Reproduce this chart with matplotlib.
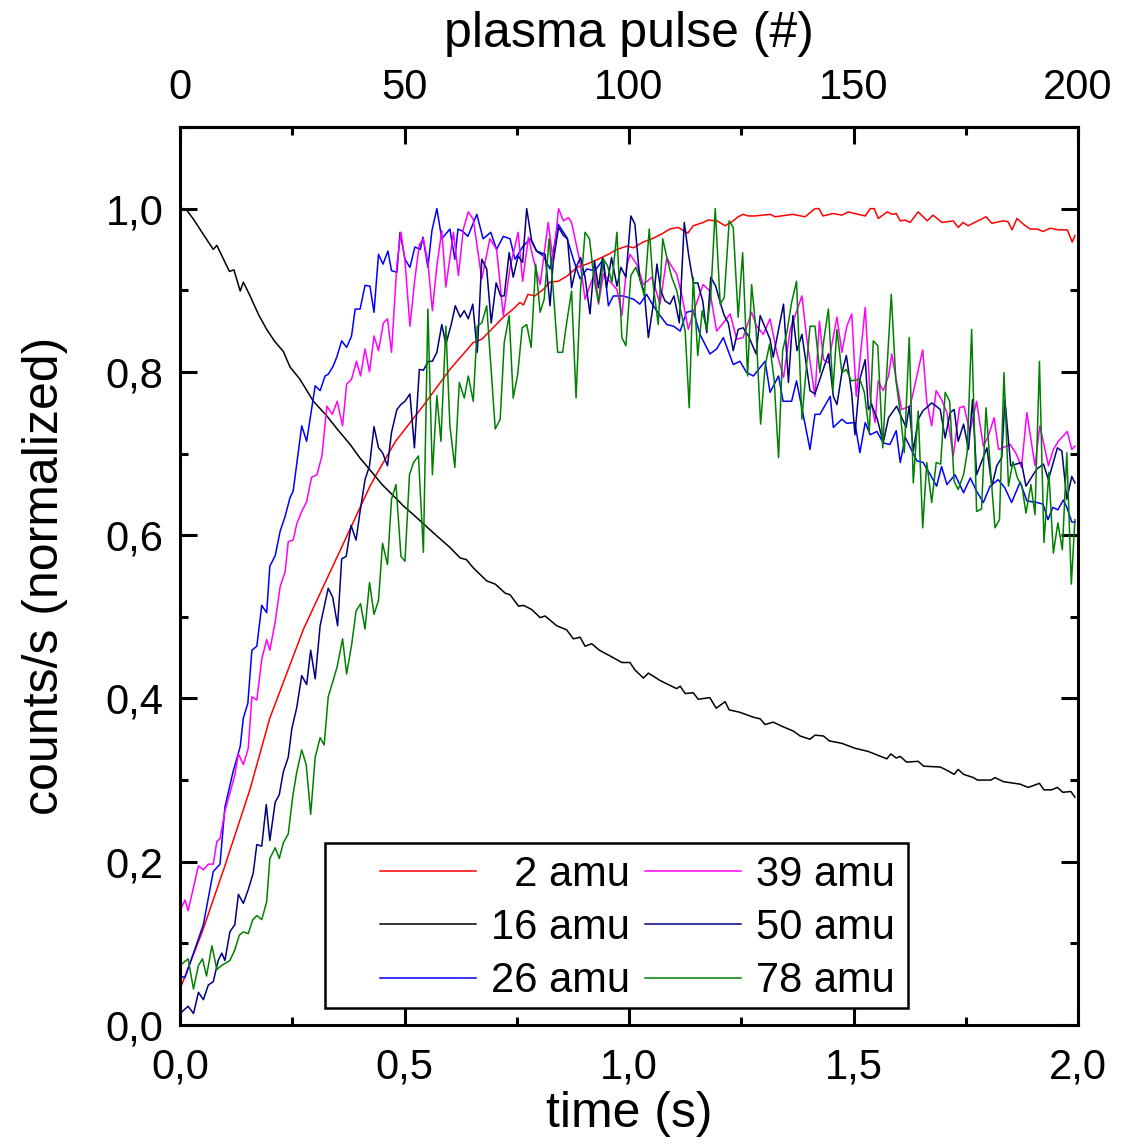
import matplotlib
matplotlib.use("Agg")
import matplotlib.pyplot as plt
from matplotlib.ticker import MultipleLocator, FixedLocator, FuncFormatter
from matplotlib.patches import Rectangle

plt.rcParams['font.family'] = ['Liberation Sans', 'DejaVu Sans']

# ---- data (time in s, normalized counts/s) ----
t_2 = [0, 0.05, 0.1, 0.156, 0.2, 0.275, 0.319, 0.364, 0.423, 0.439, 0.48, 0.541, 0.601, 0.653,
       0.672, 0.69, 0.72, 0.742, 0.757, 0.765, 0.775, 0.79, 0.809, 0.824, 0.842, 0.861, 0.884,
       0.906, 0.931, 0.954, 0.973, 0.995, 1.01, 1.031, 1.051, 1.073, 1.091, 1.109, 1.131, 1.143,
       1.165, 1.176, 1.196, 1.214, 1.232, 1.243, 1.254, 1.265, 1.28, 1.314, 1.325, 1.365, 1.392,
       1.414, 1.423, 1.432, 1.454, 1.474, 1.488, 1.51, 1.526, 1.537, 1.546, 1.555, 1.575, 1.586,
       1.595, 1.604, 1.615, 1.626, 1.644, 1.664, 1.677, 1.697, 1.722, 1.733, 1.744, 1.755, 1.777,
       1.795, 1.808, 1.833, 1.844, 1.853, 1.864, 1.878, 1.893, 1.909, 1.922, 1.938, 1.955, 1.976,
       1.987, 1.993]
y_2 = [0.044, 0.115, 0.195, 0.289, 0.376, 0.485, 0.537, 0.59, 0.66, 0.676, 0.715, 0.758, 0.803, 0.836,
       0.84, 0.85, 0.867, 0.877, 0.885, 0.882, 0.895, 0.893, 0.901, 0.91, 0.911, 0.917, 0.928,
       0.932, 0.938, 0.944, 0.95, 0.954, 0.952, 0.959, 0.963, 0.969, 0.975, 0.977, 0.97, 0.979,
       0.983, 0.986, 0.985, 0.979, 0.985, 0.99, 0.993, 0.991, 0.991, 0.993, 0.99, 0.993, 0.99,
       1.0, 1.0, 0.991, 0.994, 0.992, 0.996, 0.993, 0.991, 1.0, 1.0, 0.988, 0.996, 0.993,
       0.994, 0.985, 0.986, 0.983, 0.996, 0.985, 0.992, 0.983, 0.985, 0.977, 0.983, 0.979, 0.985,
       0.99, 0.982, 0.985, 0.984, 0.974, 0.988, 0.981, 0.975, 0.975, 0.972, 0.976, 0.974, 0.974,
       0.959, 0.967]

t_16 = [0, 0.007, 0.015, 0.03, 0.05, 0.074, 0.082, 0.11, 0.12, 0.134, 0.141, 0.156, 0.175, 0.193,
        0.21, 0.23, 0.245, 0.267, 0.297, 0.327, 0.35, 0.379, 0.4, 0.423, 0.45, 0.483, 0.497, 0.52,
        0.542, 0.57, 0.601, 0.624, 0.638, 0.653, 0.683, 0.702, 0.724, 0.735, 0.754, 0.765, 0.783,
        0.802, 0.813, 0.839, 0.861, 0.876, 0.891, 0.902, 0.917,
        0.934, 0.958, 0.984, 1.002, 1.013, 1.032, 1.043, 1.069, 1.106, 1.114, 1.125, 1.143,
        1.154, 1.18, 1.194, 1.214, 1.223, 1.247, 1.277, 1.292, 1.303, 1.321, 1.34, 1.366, 1.381,
        1.403, 1.414, 1.433, 1.446, 1.474, 1.503, 1.533, 1.574, 1.583, 1.595, 1.604, 1.618, 1.644,
        1.656, 1.693, 1.708, 1.724, 1.733, 1.745, 1.767, 1.776, 1.806, 1.815, 1.834, 1.871, 1.889,
        1.914, 1.924, 1.941, 1.954, 1.966, 1.984, 1.993]
y_16 = [1.0, 1.0, 0.998, 0.987, 0.97, 0.95, 0.955, 0.923, 0.925, 0.899, 0.91, 0.893, 0.87, 0.852,
        0.838, 0.825, 0.806, 0.791, 0.764, 0.746, 0.73, 0.711, 0.695, 0.68, 0.662, 0.644, 0.636, 0.625,
        0.614, 0.6, 0.585, 0.572, 0.57, 0.56, 0.544, 0.54, 0.529, 0.527, 0.513, 0.514, 0.509,
        0.499, 0.501, 0.489, 0.484, 0.473, 0.475, 0.464, 0.467,
        0.459, 0.452, 0.444, 0.444, 0.435, 0.425, 0.431, 0.422, 0.412, 0.415, 0.406, 0.407,
        0.399, 0.401, 0.388, 0.396, 0.386, 0.383, 0.377, 0.375, 0.368, 0.371, 0.366, 0.36, 0.354,
        0.35, 0.355, 0.354, 0.348, 0.345, 0.339, 0.335, 0.326, 0.332, 0.327, 0.329, 0.322, 0.323,
        0.317, 0.316, 0.312, 0.307, 0.313, 0.307, 0.303, 0.3, 0.3, 0.303, 0.298, 0.295, 0.291,
        0.296, 0.288, 0.288, 0.291, 0.285, 0.286, 0.279]

t_26 = [0, 0.011, 0.052, 0.074, 0.089, 0.1, 0.118, 0.134, 0.141, 0.151, 0.16, 0.171, 0.182, 0.193,
        0.2, 0.212, 0.223, 0.234, 0.245, 0.252, 0.271, 0.282, 0.301, 0.312, 0.323, 0.33, 0.341,
        0.349, 0.36, 0.371, 0.382, 0.39, 0.401, 0.412, 0.423, 0.432, 0.442, 0.452, 0.463, 0.471,
        0.483, 0.49, 0.501, 0.512, 0.523, 0.535, 0.541, 0.552, 0.561, 0.572, 0.583, 0.601, 0.612,
        0.619, 0.63, 0.641, 0.661, 0.675, 0.692, 0.705, 0.72, 0.735, 0.746, 0.764, 0.78, 0.794,
        0.809, 0.824, 0.842, 0.861, 0.876, 0.891, 0.906, 0.924, 0.943, 0.954, 0.965, 0.987, 1.01,
        1.024, 1.039, 1.054, 1.069, 1.084, 1.099, 1.114, 1.128, 1.143, 1.158, 1.18, 1.195, 1.21,
        1.232, 1.247, 1.262, 1.277, 1.303, 1.314, 1.333, 1.343, 1.362, 1.373, 1.403, 1.414, 1.425,
        1.448, 1.455, 1.474, 1.485, 1.503, 1.514, 1.526, 1.537, 1.552, 1.566, 1.581, 1.595, 1.604,
        1.615, 1.641, 1.655, 1.67, 1.685, 1.696, 1.708, 1.726, 1.745, 1.76, 1.774, 1.789, 1.804,
        1.822, 1.837, 1.852, 1.871, 1.886, 1.908, 1.922, 1.933, 1.944, 1.955, 1.967, 1.975, 1.986,
        1.993]
y_26 = [0.06, 0.058, 0.123, 0.188, 0.197, 0.267, 0.31, 0.341, 0.376, 0.394, 0.459, 0.464, 0.514, 0.505,
        0.562, 0.575, 0.605, 0.623, 0.646, 0.654, 0.734, 0.715, 0.783, 0.777, 0.795, 0.797, 0.807,
        0.818, 0.838, 0.83, 0.844, 0.877, 0.877, 0.906, 0.905, 0.873, 0.944, 0.932, 0.948, 0.924,
        0.922, 0.971, 0.938, 0.928, 0.953, 0.95, 0.965, 0.928, 0.973, 1.0, 0.963, 0.975, 0.938,
        0.975, 0.972, 0.966, 0.993, 0.963, 0.971, 0.95, 0.966, 0.963, 0.938, 0.954, 0.963, 0.948,
        0.942, 0.926, 0.981, 0.965, 0.938, 0.914, 0.926, 0.924, 0.938, 0.881, 0.893, 0.893, 0.889,
        0.883, 0.895, 0.881, 0.869, 0.858, 0.856, 0.85, 0.873, 0.875, 0.846, 0.822, 0.828, 0.842,
        0.809, 0.813, 0.799, 0.795, 0.813, 0.775, 0.795, 0.764, 0.764, 0.789, 0.705, 0.748, 0.748,
        0.77, 0.732, 0.742, 0.737, 0.738, 0.701, 0.738, 0.723, 0.727, 0.713, 0.711, 0.728, 0.689,
        0.72, 0.691, 0.689, 0.675, 0.66, 0.684, 0.662, 0.674, 0.652, 0.67, 0.654, 0.64, 0.66,
        0.668, 0.658, 0.64, 0.665, 0.642, 0.64, 0.638, 0.619, 0.634, 0.631, 0.643, 0.634, 0.616,
        0.616]

t_39 = [0, 0.011, 0.018, 0.041, 0.052, 0.063, 0.074, 0.082, 0.089, 0.1, 0.111, 0.122, 0.13, 0.141,
        0.152, 0.16, 0.171, 0.182, 0.193, 0.2, 0.212, 0.223, 0.234, 0.241, 0.252, 0.26, 0.271,
        0.282, 0.293, 0.305, 0.316, 0.327, 0.339, 0.35, 0.362, 0.371, 0.382, 0.393, 0.402, 0.412,
        0.422, 0.432, 0.442, 0.453, 0.462, 0.471, 0.483, 0.492, 0.501, 0.512, 0.523, 0.533, 0.542,
        0.552, 0.562, 0.572, 0.583, 0.592, 0.609, 0.62, 0.631, 0.642, 0.653, 0.672, 0.69, 0.705,
        0.72, 0.735, 0.753, 0.763, 0.776, 0.787, 0.802, 0.82, 0.831, 0.843, 0.854, 0.865, 0.872,
        0.891, 0.902, 0.924, 0.932, 0.943, 0.973, 0.984, 0.995, 1.002, 1.017, 1.032, 1.051, 1.069,
        1.084, 1.094, 1.106, 1.117, 1.132, 1.143, 1.165, 1.18, 1.195, 1.21, 1.225, 1.24, 1.254,
        1.273, 1.284, 1.299, 1.314, 1.329, 1.344, 1.359, 1.385, 1.396, 1.414, 1.424, 1.433, 1.444,
        1.463, 1.474, 1.485, 1.496, 1.506, 1.526, 1.537, 1.548, 1.555, 1.566, 1.578, 1.585, 1.607,
        1.626, 1.641, 1.654, 1.663, 1.674, 1.684, 1.696, 1.708, 1.722, 1.736, 1.746, 1.759, 1.774,
        1.789, 1.8, 1.813, 1.823, 1.849, 1.863, 1.874, 1.886, 1.904, 1.915, 1.934, 1.945, 1.956,
        1.976, 1.986, 1.993]
y_39 = [0.14, 0.153, 0.14, 0.195, 0.19, 0.197, 0.197, 0.225, 0.228, 0.262, 0.284, 0.306, 0.332, 0.319,
        0.339, 0.402, 0.398, 0.448, 0.472, 0.459, 0.494, 0.537, 0.555, 0.592, 0.594, 0.614, 0.629,
        0.641, 0.671, 0.674, 0.697, 0.758, 0.748, 0.764, 0.734, 0.785, 0.791, 0.813, 0.795, 0.828,
        0.8, 0.844, 0.826, 0.86, 0.865, 0.824, 0.932, 0.971, 0.936, 0.856, 0.914, 0.956, 0.963,
        0.934, 0.875, 0.93, 0.973, 0.904, 0.971, 0.918, 0.975, 0.996, 0.987, 0.914, 0.963, 0.95,
        0.869, 0.928, 0.971, 0.911, 0.965, 0.938, 0.907, 0.983, 0.936, 1.0, 0.985, 0.989, 0.983,
        0.934, 0.889, 0.922, 0.883, 0.92, 0.901, 0.869, 0.93, 0.944, 0.932, 0.907, 0.916, 0.883,
        0.94, 0.93, 0.92, 0.895, 0.852, 0.873, 0.907, 0.899, 0.85, 0.86, 0.871, 0.84, 0.842,
        0.873, 0.856, 0.846, 0.865, 0.824, 0.793, 0.852, 0.893, 0.84, 0.77, 0.862, 0.815, 0.811,
        0.867, 0.824, 0.856, 0.871, 0.77, 0.879, 0.77, 0.738, 0.789, 0.777, 0.795, 0.822, 0.754,
        0.758, 0.795, 0.827, 0.764, 0.734, 0.777, 0.766, 0.75, 0.697, 0.756, 0.758, 0.726, 0.764,
        0.709, 0.721, 0.744, 0.705, 0.711, 0.699, 0.683, 0.75, 0.685, 0.734, 0.685, 0.705, 0.715,
        0.727, 0.705, 0.709]

t_50 = [0, 0.018, 0.03, 0.041, 0.052, 0.063, 0.074, 0.085, 0.093, 0.1, 0.111, 0.122, 0.13, 0.141,
        0.152, 0.163, 0.171, 0.182, 0.192, 0.2, 0.212, 0.221, 0.23, 0.241, 0.249, 0.26, 0.271,
        0.282, 0.291, 0.301, 0.312, 0.319, 0.33, 0.34, 0.351, 0.36, 0.37, 0.381, 0.392, 0.401,
        0.412, 0.422, 0.432, 0.442, 0.451, 0.462, 0.471, 0.483, 0.492, 0.501, 0.512, 0.522, 0.533,
        0.542, 0.553, 0.562, 0.572, 0.583, 0.592, 0.604, 0.613, 0.624, 0.633, 0.642, 0.652, 0.662,
        0.672, 0.683, 0.693, 0.704, 0.714, 0.722, 0.733, 0.742, 0.753, 0.763, 0.772, 0.783, 0.794,
        0.813, 0.824, 0.831, 0.843, 0.854, 0.863, 0.872, 0.882, 0.892, 0.902, 0.913, 0.923, 0.932,
        0.941, 0.95, 0.961, 0.973, 0.982, 0.993, 1.004, 1.013, 1.024, 1.034, 1.043, 1.053, 1.062,
        1.071, 1.08, 1.091, 1.1, 1.112, 1.123, 1.133, 1.143, 1.153, 1.164, 1.173, 1.182, 1.193,
        1.203, 1.212, 1.221, 1.232, 1.243, 1.254, 1.266, 1.283, 1.292, 1.314, 1.321, 1.344, 1.355,
        1.365, 1.374, 1.385, 1.403, 1.414, 1.425, 1.444, 1.455, 1.463, 1.474, 1.484, 1.496, 1.503,
        1.514, 1.526, 1.533, 1.54, 1.553, 1.566, 1.578, 1.596, 1.617, 1.624, 1.633, 1.644, 1.654,
        1.674, 1.684, 1.693, 1.704, 1.715, 1.724, 1.733, 1.745, 1.756, 1.765, 1.774, 1.797, 1.808,
        1.819, 1.83, 1.837, 1.85, 1.874, 1.884, 1.908, 1.923, 1.934, 1.954, 1.964, 1.975, 1.986,
        1.993]
y_50 = [0.014, 0.023, 0.014, 0.04, 0.031, 0.049, 0.053, 0.079, 0.088, 0.079, 0.114, 0.123, 0.16, 0.149,
        0.166, 0.186, 0.221, 0.219, 0.27, 0.226, 0.273, 0.282, 0.31, 0.328, 0.363, 0.389, 0.428,
        0.417, 0.459, 0.424, 0.489, 0.507, 0.535, 0.524, 0.489, 0.571, 0.574, 0.612, 0.594, 0.629,
        0.668, 0.685, 0.733, 0.707, 0.701, 0.685, 0.726, 0.754, 0.76, 0.764, 0.773, 0.707, 0.803,
        0.802, 0.813, 0.813, 0.824, 0.858, 0.834, 0.858, 0.881, 0.867, 0.875, 0.865, 0.883, 0.824,
        0.938, 0.926, 0.86, 0.909, 0.893, 0.893, 0.946, 0.916, 0.942, 0.934, 1.0, 0.961, 0.948,
        0.944, 0.881, 0.934, 0.977, 0.967, 0.963, 0.903, 0.928, 0.94, 0.916, 0.871, 0.936, 0.903,
        0.94, 0.903, 0.94, 0.905, 0.928, 0.916, 0.991, 0.981, 0.914, 0.897, 0.842, 0.879, 0.932,
        0.899, 0.887, 0.883, 0.893, 0.86, 0.983, 0.942, 0.909, 0.909, 0.887, 0.848, 0.916, 0.905,
        0.885, 0.869, 0.86, 0.826, 0.852, 0.854, 0.844, 0.822, 0.869, 0.84, 0.818, 0.883, 0.787,
        0.869, 0.826, 0.846, 0.777, 0.773, 0.791, 0.822, 0.77, 0.76, 0.799, 0.82, 0.773, 0.723,
        0.791, 0.815, 0.754, 0.76, 0.742, 0.713, 0.744, 0.758, 0.732, 0.758, 0.703, 0.742, 0.752,
        0.762, 0.758, 0.754, 0.719, 0.75, 0.754, 0.715, 0.736, 0.705, 0.766, 0.674, 0.707, 0.66,
        0.685, 0.695, 0.766, 0.685, 0.689, 0.66, 0.681, 0.687, 0.668, 0.707, 0.703, 0.644, 0.672,
        0.664]

t_78 = [0, 0.018, 0.03, 0.041, 0.05, 0.059, 0.071, 0.082, 0.093, 0.111, 0.122, 0.132, 0.141, 0.152,
        0.162, 0.171, 0.182, 0.193, 0.2, 0.212, 0.221, 0.23, 0.241, 0.251, 0.26, 0.271, 0.281,
        0.291, 0.301, 0.312, 0.321, 0.33, 0.341, 0.35, 0.362, 0.371, 0.382, 0.392, 0.402, 0.412,
        0.422, 0.432, 0.442, 0.451, 0.462, 0.471, 0.481, 0.492, 0.501, 0.511, 0.52, 0.531, 0.542,
        0.552, 0.562, 0.572, 0.581, 0.592, 0.601, 0.612, 0.622, 0.633, 0.642, 0.653, 0.662, 0.672,
        0.683, 0.702, 0.713, 0.722, 0.733, 0.742, 0.752, 0.762, 0.772, 0.782, 0.792, 0.802, 0.811,
        0.822, 0.831, 0.841, 0.852, 0.861, 0.872, 0.882, 0.892, 0.902, 0.912, 0.922, 0.932, 0.943,
        0.952, 0.962, 0.973, 0.984, 0.993, 1.004, 1.015, 1.024, 1.034, 1.045, 1.054, 1.065, 1.075,
        1.085, 1.095, 1.106, 1.116, 1.125, 1.134, 1.143, 1.153, 1.163, 1.173, 1.182, 1.192, 1.203,
        1.212, 1.223, 1.232, 1.243, 1.253, 1.264, 1.273, 1.283, 1.293, 1.303, 1.313, 1.323, 1.333,
        1.342, 1.352, 1.362, 1.373, 1.385, 1.394, 1.403, 1.414, 1.425, 1.434, 1.444, 1.454, 1.463,
        1.474, 1.484, 1.495, 1.504, 1.514, 1.524, 1.535, 1.544, 1.554, 1.565, 1.574, 1.584, 1.594,
        1.604, 1.613, 1.624, 1.633, 1.644, 1.654, 1.663, 1.674, 1.684, 1.694, 1.704, 1.714, 1.724,
        1.733, 1.745, 1.753, 1.763, 1.774, 1.785, 1.795, 1.805, 1.815, 1.825, 1.835, 1.845, 1.855,
        1.865, 1.875, 1.884, 1.895, 1.904, 1.914, 1.924, 1.935, 1.945, 1.955, 1.965, 1.975, 1.985,
        1.993]
y_78 = [0.073, 0.081, 0.044, 0.073, 0.081, 0.06, 0.097, 0.068, 0.073, 0.079, 0.092, 0.11, 0.114, 0.112,
        0.129, 0.134, 0.129, 0.151, 0.204, 0.217, 0.204, 0.223, 0.234, 0.28, 0.31, 0.337, 0.319,
        0.258, 0.328, 0.352, 0.343, 0.402, 0.422, 0.439, 0.473, 0.43, 0.465, 0.507, 0.516, 0.485,
        0.542, 0.503, 0.52, 0.59, 0.564, 0.644, 0.662, 0.574, 0.568, 0.674, 0.689, 0.697, 0.579,
        0.877, 0.674, 0.771, 0.715, 0.856, 0.734, 0.683, 0.787, 0.768, 0.795, 0.764, 0.856, 0.86,
        0.881, 0.73, 0.742, 0.836, 0.869, 0.768, 0.797, 0.854, 0.858, 0.83, 0.932, 0.873, 0.889,
        0.963, 0.901, 0.824, 0.824, 0.86, 0.899, 0.768, 0.901, 0.971, 0.963, 0.914, 0.885, 0.938,
        0.93, 0.91, 0.971, 0.842, 0.832, 0.918, 0.928, 0.914, 0.893, 0.975, 0.905, 0.858, 0.963,
        0.938, 0.916, 0.9, 0.873, 0.85, 0.756, 0.916, 0.82, 0.875, 0.852, 0.893, 1.0, 0.883,
        0.891, 0.985, 0.977, 0.867, 0.946, 0.795, 0.907, 0.85, 0.736, 0.807, 0.834, 0.791, 0.695,
        0.826, 0.85, 0.885, 0.911, 0.742, 0.8, 0.856, 0.856, 0.799, 0.84, 0.877, 0.777, 0.852,
        0.799, 0.803, 0.789, 0.79, 0.791, 0.775, 0.726, 0.838, 0.832, 0.707, 0.8, 0.895, 0.791,
        0.75, 0.701, 0.842, 0.664, 0.752, 0.609, 0.689, 0.64, 0.689, 0.687, 0.775, 0.764, 0.666,
        0.656, 0.674, 0.701, 0.852, 0.629, 0.632, 0.756, 0.68, 0.609, 0.619, 0.799, 0.66, 0.69,
        0.67, 0.66, 0.627, 0.662, 0.625, 0.813, 0.591, 0.677, 0.578, 0.615, 0.582, 0.701, 0.54,
        0.619]

pulse_ticks = [0, 50, 100, 150, 200]

series = [
    (t_2, y_2, "\u20072 amu", "#ff0000"),
    (t_16, y_16, "16 amu", "#000000"),
    (t_26, y_26, "26 amu", "#0000ff"),
    (t_39, y_39, "39 amu", "#ff00ff"),
    (t_50, y_50, "50 amu", "#000080"),
    (t_78, y_78, "78 amu", "#008000"),
]

fig = plt.figure(figsize=(11.21, 11.46), dpi=100)
ax = fig.add_axes([0.1606, 0.1056, 0.8011, 0.7836])

lines = []
for t, y, lab, col in series:
    ln, = ax.plot(t, y, color=col, lw=1.1, label=lab)
    lines.append(ln)

ax.set_xlim(0, 2.0)
ax.set_ylim(0, 1.1)

comma = FuncFormatter(lambda v, p: ("%.1f" % v).replace(".", ","))
ax.xaxis.set_major_locator(MultipleLocator(0.5))
ax.xaxis.set_minor_locator(MultipleLocator(0.25))
ax.yaxis.set_major_locator(MultipleLocator(0.2))
ax.yaxis.set_minor_locator(MultipleLocator(0.1))
ax.xaxis.set_major_formatter(comma)
ax.yaxis.set_major_formatter(comma)

for s in ax.spines.values():
    s.set_linewidth(2.2)

ax.tick_params(which="both", direction="in", width=2.2, top=False, right=True,
               labelsize=30)
ax.tick_params(axis="x", pad=16)
ax.tick_params(axis="y", pad=12)
ax.tick_params(which="major", length=12)
ax.tick_params(which="minor", length=6)

ax.set_xlabel("time (s)", fontsize=36, labelpad=3)
ax.set_ylabel("counts/s (normalized)", fontsize=36, labelpad=27)

top = ax.secondary_xaxis("top", functions=(lambda t: t * 100, lambda p: p / 100))
top.xaxis.set_major_locator(FixedLocator(pulse_ticks))
top.xaxis.set_minor_locator(FixedLocator([25, 75, 125, 175]))
top.tick_params(which="both", direction="in", width=2.2, labelsize=30, pad=14)
top.tick_params(which="major", length=12)
top.tick_params(which="minor", length=6)
top.spines["top"].set_linewidth(2.2)
top.set_xlabel("plasma pulse (#)", fontsize=36, labelpad=15)

# legend frame drawn as its own box, entries placed inside
ax.add_patch(Rectangle((0.1615, 0.0189), 0.6492, 0.1838, transform=ax.transAxes,
                       facecolor="white", edgecolor="black", lw=1.8, zorder=5))
leg = ax.legend(handles=lines, ncol=2, loc="center", bbox_to_anchor=(0.5095, 0.108),
                frameon=False, fontsize=30, handlelength=2.3, handletextpad=0.36,
                columnspacing=0.36, labelspacing=0.32, borderpad=0.0)
leg.set_zorder(6)

fig.savefig("out.png", dpi=100)
